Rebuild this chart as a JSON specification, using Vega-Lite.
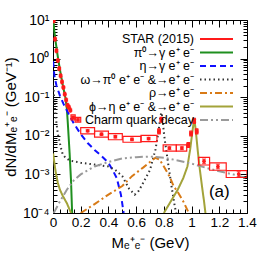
{
 "$schema": "https://vega.github.io/schema/vega-lite/v6.json",
 "width": 194, "height": 193,
 "autosize": "none",
 "padding": {"left": 53, "top": 20, "right": 19, "bottom": 53},
 "background": "white",
 "config": {
  "font": "Liberation Sans",
  "view": {"stroke": "black", "strokeWidth": 1},
  "axis": {"domain": false, "grid": false, "labelFont": "Liberation Sans", "titleFont": "Liberation Sans", "labelColor": "black", "titleColor": "black", "tickColor": "black", "titleFontWeight": "normal", "labelFontSize": 13.5, "titleFontSize": 15, "tickSize": -4, "labelPadding": 8}
 },
 "datasets": {
  "curves": [
   {"series": "π⁰→γ e⁺ e⁻", "part": "a", "m": 0.001, "v": 11},
   {"series": "π⁰→γ e⁺ e⁻", "part": "a", "m": 0.01, "v": 5},
   {"series": "π⁰→γ e⁺ e⁻", "part": "a", "m": 0.02, "v": 2.6},
   {"series": "π⁰→γ e⁺ e⁻", "part": "a", "m": 0.03, "v": 1.45},
   {"series": "π⁰→γ e⁺ e⁻", "part": "a", "m": 0.04, "v": 0.85},
   {"series": "π⁰→γ e⁺ e⁻", "part": "a", "m": 0.05, "v": 0.52},
   {"series": "π⁰→γ e⁺ e⁻", "part": "a", "m": 0.06, "v": 0.33},
   {"series": "π⁰→γ e⁺ e⁻", "part": "a", "m": 0.07, "v": 0.21},
   {"series": "π⁰→γ e⁺ e⁻", "part": "a", "m": 0.08, "v": 0.14},
   {"series": "π⁰→γ e⁺ e⁻", "part": "a", "m": 0.09, "v": 0.095},
   {"series": "π⁰→γ e⁺ e⁻", "part": "a", "m": 0.1, "v": 0.05},
   {"series": "π⁰→γ e⁺ e⁻", "part": "a", "m": 0.105, "v": 0.027},
   {"series": "π⁰→γ e⁺ e⁻", "part": "a", "m": 0.11, "v": 0.014},
   {"series": "π⁰→γ e⁺ e⁻", "part": "a", "m": 0.12, "v": 0.0035},
   {"series": "π⁰→γ e⁺ e⁻", "part": "a", "m": 0.13, "v": 0.0007},
   {"series": "π⁰→γ e⁺ e⁻", "part": "a", "m": 0.138, "v": 0.0001},
   {"series": "η→γ e⁺ e⁻", "part": "a", "m": 0.001, "v": 0.85},
   {"series": "η→γ e⁺ e⁻", "part": "a", "m": 0.01, "v": 0.36},
   {"series": "η→γ e⁺ e⁻", "part": "a", "m": 0.025, "v": 0.2},
   {"series": "η→γ e⁺ e⁻", "part": "a", "m": 0.05, "v": 0.11},
   {"series": "η→γ e⁺ e⁻", "part": "a", "m": 0.075, "v": 0.068},
   {"series": "η→γ e⁺ e⁻", "part": "a", "m": 0.1, "v": 0.045},
   {"series": "η→γ e⁺ e⁻", "part": "a", "m": 0.15, "v": 0.021},
   {"series": "η→γ e⁺ e⁻", "part": "a", "m": 0.2, "v": 0.011},
   {"series": "η→γ e⁺ e⁻", "part": "a", "m": 0.25, "v": 0.0065},
   {"series": "η→γ e⁺ e⁻", "part": "a", "m": 0.3, "v": 0.0043},
   {"series": "η→γ e⁺ e⁻", "part": "a", "m": 0.35, "v": 0.003},
   {"series": "η→γ e⁺ e⁻", "part": "a", "m": 0.4, "v": 0.002},
   {"series": "η→γ e⁺ e⁻", "part": "a", "m": 0.43, "v": 0.0013},
   {"series": "η→γ e⁺ e⁻", "part": "a", "m": 0.46, "v": 0.0008},
   {"series": "η→γ e⁺ e⁻", "part": "a", "m": 0.49, "v": 0.0003},
   {"series": "η→γ e⁺ e⁻", "part": "a", "m": 0.51, "v": 0.0001},
   {"series": "ω→π⁰ e⁺ e⁻ &→e⁺ e⁻", "part": "a", "m": 0.002, "v": 0.2},
   {"series": "ω→π⁰ e⁺ e⁻ &→e⁺ e⁻", "part": "a", "m": 0.01, "v": 0.08},
   {"series": "ω→π⁰ e⁺ e⁻ &→e⁺ e⁻", "part": "a", "m": 0.02, "v": 0.03},
   {"series": "ω→π⁰ e⁺ e⁻ &→e⁺ e⁻", "part": "a", "m": 0.035, "v": 0.011},
   {"series": "ω→π⁰ e⁺ e⁻ &→e⁺ e⁻", "part": "a", "m": 0.06, "v": 0.0045},
   {"series": "ω→π⁰ e⁺ e⁻ &→e⁺ e⁻", "part": "a", "m": 0.07, "v": 0.0033},
   {"series": "ω→π⁰ e⁺ e⁻ &→e⁺ e⁻", "part": "a", "m": 0.09, "v": 0.0027},
   {"series": "ω→π⁰ e⁺ e⁻ &→e⁺ e⁻", "part": "a", "m": 0.12, "v": 0.0023},
   {"series": "ω→π⁰ e⁺ e⁻ &→e⁺ e⁻", "part": "a", "m": 0.2, "v": 0.002},
   {"series": "ω→π⁰ e⁺ e⁻ &→e⁺ e⁻", "part": "a", "m": 0.3, "v": 0.0018},
   {"series": "ω→π⁰ e⁺ e⁻ &→e⁺ e⁻", "part": "a", "m": 0.4, "v": 0.0016},
   {"series": "ω→π⁰ e⁺ e⁻ &→e⁺ e⁻", "part": "a", "m": 0.45, "v": 0.0013},
   {"series": "ω→π⁰ e⁺ e⁻ &→e⁺ e⁻", "part": "a", "m": 0.5, "v": 0.0009},
   {"series": "ω→π⁰ e⁺ e⁻ &→e⁺ e⁻", "part": "a", "m": 0.55, "v": 0.00042},
   {"series": "ω→π⁰ e⁺ e⁻ &→e⁺ e⁻", "part": "a", "m": 0.59, "v": 0.0003},
   {"series": "ω→π⁰ e⁺ e⁻ &→e⁺ e⁻", "part": "a", "m": 0.62, "v": 0.00038},
   {"series": "ω→π⁰ e⁺ e⁻ &→e⁺ e⁻", "part": "a", "m": 0.65, "v": 0.0006},
   {"series": "ω→π⁰ e⁺ e⁻ &→e⁺ e⁻", "part": "a", "m": 0.7, "v": 0.0013},
   {"series": "ω→π⁰ e⁺ e⁻ &→e⁺ e⁻", "part": "a", "m": 0.74, "v": 0.0045},
   {"series": "ω→π⁰ e⁺ e⁻ &→e⁺ e⁻", "part": "a", "m": 0.76, "v": 0.012},
   {"series": "ω→π⁰ e⁺ e⁻ &→e⁺ e⁻", "part": "a", "m": 0.775, "v": 0.032},
   {"series": "ω→π⁰ e⁺ e⁻ &→e⁺ e⁻", "part": "a", "m": 0.782, "v": 0.04},
   {"series": "ω→π⁰ e⁺ e⁻ &→e⁺ e⁻", "part": "a", "m": 0.79, "v": 0.03},
   {"series": "ω→π⁰ e⁺ e⁻ &→e⁺ e⁻", "part": "a", "m": 0.8, "v": 0.012},
   {"series": "ω→π⁰ e⁺ e⁻ &→e⁺ e⁻", "part": "a", "m": 0.81, "v": 0.0065},
   {"series": "ω→π⁰ e⁺ e⁻ &→e⁺ e⁻", "part": "a", "m": 0.83, "v": 0.002},
   {"series": "ω→π⁰ e⁺ e⁻ &→e⁺ e⁻", "part": "a", "m": 0.855, "v": 0.0005},
   {"series": "ω→π⁰ e⁺ e⁻ &→e⁺ e⁻", "part": "a", "m": 0.88, "v": 0.00014},
   {"series": "ω→π⁰ e⁺ e⁻ &→e⁺ e⁻", "part": "a", "m": 0.89, "v": 0.0001},
   {"series": "ρ→e⁺ e⁻", "part": "a", "m": 0.2, "v": 0.0001},
   {"series": "ρ→e⁺ e⁻", "part": "a", "m": 0.3, "v": 0.00017},
   {"series": "ρ→e⁺ e⁻", "part": "a", "m": 0.4, "v": 0.0003},
   {"series": "ρ→e⁺ e⁻", "part": "a", "m": 0.5, "v": 0.0005},
   {"series": "ρ→e⁺ e⁻", "part": "a", "m": 0.57, "v": 0.0009},
   {"series": "ρ→e⁺ e⁻", "part": "a", "m": 0.65, "v": 0.0015},
   {"series": "ρ→e⁺ e⁻", "part": "a", "m": 0.7, "v": 0.0021},
   {"series": "ρ→e⁺ e⁻", "part": "a", "m": 0.74, "v": 0.0027},
   {"series": "ρ→e⁺ e⁻", "part": "a", "m": 0.77, "v": 0.0024},
   {"series": "ρ→e⁺ e⁻", "part": "a", "m": 0.8, "v": 0.0016},
   {"series": "ρ→e⁺ e⁻", "part": "a", "m": 0.84, "v": 0.0009},
   {"series": "ρ→e⁺ e⁻", "part": "a", "m": 0.87, "v": 0.0005},
   {"series": "ρ→e⁺ e⁻", "part": "a", "m": 0.9, "v": 0.00035},
   {"series": "ρ→e⁺ e⁻", "part": "a", "m": 0.94, "v": 0.0002},
   {"series": "ρ→e⁺ e⁻", "part": "a", "m": 0.98, "v": 0.0001},
   {"series": "ϕ→η e⁺ e⁻ &→e⁺ e⁻", "part": "a", "m": 0.001, "v": 0.0035},
   {"series": "ϕ→η e⁺ e⁻ &→e⁺ e⁻", "part": "a", "m": 0.01, "v": 0.002},
   {"series": "ϕ→η e⁺ e⁻ &→e⁺ e⁻", "part": "a", "m": 0.02, "v": 0.0011},
   {"series": "ϕ→η e⁺ e⁻ &→e⁺ e⁻", "part": "a", "m": 0.035, "v": 0.0006},
   {"series": "ϕ→η e⁺ e⁻ &→e⁺ e⁻", "part": "a", "m": 0.05, "v": 0.0004},
   {"series": "ϕ→η e⁺ e⁻ &→e⁺ e⁻", "part": "a", "m": 0.07, "v": 0.00028},
   {"series": "ϕ→η e⁺ e⁻ &→e⁺ e⁻", "part": "a", "m": 0.1, "v": 0.00018},
   {"series": "ϕ→η e⁺ e⁻ &→e⁺ e⁻", "part": "a", "m": 0.13, "v": 0.0001},
   {"series": "ϕ→η e⁺ e⁻ &→e⁺ e⁻", "part": "b", "m": 0.8, "v": 0.0001},
   {"series": "ϕ→η e⁺ e⁻ &→e⁺ e⁻", "part": "b", "m": 0.85, "v": 0.0002},
   {"series": "ϕ→η e⁺ e⁻ &→e⁺ e⁻", "part": "b", "m": 0.9, "v": 0.0004},
   {"series": "ϕ→η e⁺ e⁻ &→e⁺ e⁻", "part": "b", "m": 0.94, "v": 0.0008},
   {"series": "ϕ→η e⁺ e⁻ &→e⁺ e⁻", "part": "b", "m": 0.97, "v": 0.0016},
   {"series": "ϕ→η e⁺ e⁻ &→e⁺ e⁻", "part": "b", "m": 0.99, "v": 0.0045},
   {"series": "ϕ→η e⁺ e⁻ &→e⁺ e⁻", "part": "b", "m": 1.005, "v": 0.012},
   {"series": "ϕ→η e⁺ e⁻ &→e⁺ e⁻", "part": "b", "m": 1.019, "v": 0.028},
   {"series": "ϕ→η e⁺ e⁻ &→e⁺ e⁻", "part": "b", "m": 1.03, "v": 0.014},
   {"series": "ϕ→η e⁺ e⁻ &→e⁺ e⁻", "part": "b", "m": 1.045, "v": 0.004},
   {"series": "ϕ→η e⁺ e⁻ &→e⁺ e⁻", "part": "b", "m": 1.06, "v": 0.0013},
   {"series": "ϕ→η e⁺ e⁻ &→e⁺ e⁻", "part": "b", "m": 1.075, "v": 0.0005},
   {"series": "ϕ→η e⁺ e⁻ &→e⁺ e⁻", "part": "b", "m": 1.09, "v": 0.0002},
   {"series": "ϕ→η e⁺ e⁻ &→e⁺ e⁻", "part": "b", "m": 1.1, "v": 0.0001},
   {"series": "Charm quark decay", "part": "a", "m": 0.005, "v": 0.0001},
   {"series": "Charm quark decay", "part": "a", "m": 0.05, "v": 0.0002},
   {"series": "Charm quark decay", "part": "a", "m": 0.1, "v": 0.0004},
   {"series": "Charm quark decay", "part": "a", "m": 0.15, "v": 0.0007},
   {"series": "Charm quark decay", "part": "a", "m": 0.2, "v": 0.001},
   {"series": "Charm quark decay", "part": "a", "m": 0.3, "v": 0.0016},
   {"series": "Charm quark decay", "part": "a", "m": 0.4, "v": 0.0021},
   {"series": "Charm quark decay", "part": "a", "m": 0.5, "v": 0.0026},
   {"series": "Charm quark decay", "part": "a", "m": 0.6, "v": 0.0028},
   {"series": "Charm quark decay", "part": "a", "m": 0.7, "v": 0.0029},
   {"series": "Charm quark decay", "part": "a", "m": 0.8, "v": 0.0027},
   {"series": "Charm quark decay", "part": "a", "m": 0.9, "v": 0.0023},
   {"series": "Charm quark decay", "part": "a", "m": 1.0, "v": 0.0019},
   {"series": "Charm quark decay", "part": "a", "m": 1.1, "v": 0.0015},
   {"series": "Charm quark decay", "part": "a", "m": 1.2, "v": 0.0012},
   {"series": "Charm quark decay", "part": "a", "m": 1.3, "v": 0.001},
   {"series": "Charm quark decay", "part": "a", "m": 1.4, "v": 0.0008}
  ],
  "star": [
   {"m": 0.005, "v": 9.5, "lo": 8.9, "hi": 10.1, "m0": 0.001, "m1": 0.009, "s0": 8.5, "s1": 10.6},
   {"m": 0.015, "v": 3.2, "lo": 3.0, "hi": 3.4, "m0": 0.011, "m1": 0.019, "s0": 2.85, "s1": 3.6},
   {"m": 0.025, "v": 1.6, "lo": 1.5, "hi": 1.7, "m0": 0.021, "m1": 0.029, "s0": 1.43, "s1": 1.79},
   {"m": 0.035, "v": 0.9, "lo": 0.85, "hi": 0.95, "m0": 0.031, "m1": 0.039, "s0": 0.8, "s1": 1.0},
   {"m": 0.045, "v": 0.55, "lo": 0.52, "hi": 0.58, "m0": 0.041, "m1": 0.049, "s0": 0.49, "s1": 0.62},
   {"m": 0.055, "v": 0.36, "lo": 0.34, "hi": 0.38, "m0": 0.051, "m1": 0.059, "s0": 0.32, "s1": 0.4},
   {"m": 0.065, "v": 0.25, "lo": 0.235, "hi": 0.265, "m0": 0.061, "m1": 0.069, "s0": 0.223, "s1": 0.28},
   {"m": 0.075, "v": 0.18, "lo": 0.17, "hi": 0.19, "m0": 0.071, "m1": 0.079, "s0": 0.16, "s1": 0.2},
   {"m": 0.085, "v": 0.12, "lo": 0.113, "hi": 0.127, "m0": 0.081, "m1": 0.089, "s0": 0.107, "s1": 0.134},
   {"m": 0.095, "v": 0.085, "lo": 0.08, "hi": 0.09, "m0": 0.091, "m1": 0.099, "s0": 0.076, "s1": 0.095},
   {"m": 0.105, "v": 0.062, "lo": 0.058, "hi": 0.066, "m0": 0.101, "m1": 0.109, "s0": 0.055, "s1": 0.069},
   {"m": 0.115, "v": 0.055, "lo": 0.051, "hi": 0.059, "m0": 0.111, "m1": 0.119, "s0": 0.049, "s1": 0.062},
   {"m": 0.125, "v": 0.046, "lo": 0.043, "hi": 0.049, "m0": 0.121, "m1": 0.129, "s0": 0.041, "s1": 0.052},
   {"m": 0.145, "v": 0.03, "lo": 0.028, "hi": 0.032, "m0": 0.13, "m1": 0.16, "s0": 0.026, "s1": 0.035},
   {"m": 0.18, "v": 0.026, "lo": 0.0243, "hi": 0.0277, "m0": 0.16, "m1": 0.2, "s0": 0.0225, "s1": 0.03},
   {"m": 0.25, "v": 0.0135, "lo": 0.0127, "hi": 0.0144, "m0": 0.2, "m1": 0.3, "s0": 0.0112, "s1": 0.0162},
   {"m": 0.35, "v": 0.011, "lo": 0.0103, "hi": 0.0118, "m0": 0.3, "m1": 0.4, "s0": 0.0092, "s1": 0.0132},
   {"m": 0.45, "v": 0.0095, "lo": 0.0088, "hi": 0.0102, "m0": 0.4, "m1": 0.5, "s0": 0.0079, "s1": 0.0114},
   {"m": 0.57, "v": 0.0081, "lo": 0.0075, "hi": 0.0087, "m0": 0.505, "m1": 0.635, "s0": 0.0068, "s1": 0.0097},
   {"m": 0.69, "v": 0.0085, "lo": 0.0079, "hi": 0.0091, "m0": 0.635, "m1": 0.75, "s0": 0.0071, "s1": 0.0102},
   {"m": 0.765, "v": 0.013, "lo": 0.0118, "hi": 0.0143, "m0": 0.757, "m1": 0.773, "s0": 0.0112, "s1": 0.0151},
   {"m": 0.782, "v": 0.026, "lo": 0.0235, "hi": 0.0287, "m0": 0.774, "m1": 0.79, "s0": 0.0225, "s1": 0.03},
   {"m": 0.84, "v": 0.0048, "lo": 0.0044, "hi": 0.0052, "m0": 0.795, "m1": 0.89, "s0": 0.004, "s1": 0.0058},
   {"m": 0.93, "v": 0.0048, "lo": 0.0044, "hi": 0.0052, "m0": 0.89, "m1": 0.965, "s0": 0.004, "s1": 0.0058},
   {"m": 0.976, "v": 0.0058, "lo": 0.0053, "hi": 0.0063, "m0": 0.968, "m1": 0.984, "s0": 0.005, "s1": 0.0067},
   {"m": 0.996, "v": 0.0115, "lo": 0.0105, "hi": 0.0126, "m0": 0.988, "m1": 1.004, "s0": 0.0099, "s1": 0.0133},
   {"m": 1.019, "v": 0.0245, "lo": 0.0225, "hi": 0.0267, "m0": 1.011, "m1": 1.027, "s0": 0.021, "s1": 0.0285},
   {"m": 1.037, "v": 0.013, "lo": 0.0119, "hi": 0.0142, "m0": 1.029, "m1": 1.045, "s0": 0.0112, "s1": 0.0151},
   {"m": 1.09, "v": 0.0022, "lo": 0.0019, "hi": 0.0025, "m0": 1.05, "m1": 1.13, "s0": 0.00175, "s1": 0.00275},
   {"m": 1.19, "v": 0.0016, "lo": 0.0014, "hi": 0.00183, "m0": 1.13, "m1": 1.25, "s0": 0.00128, "s1": 0.002},
   {"m": 1.34, "v": 0.00102, "lo": 0.00088, "hi": 0.00118, "m0": 1.25, "m1": 1.4, "s0": 0.00083, "s1": 0.00125}
  ]
 },
 "layer": [
  {
   "data": {"name": "curves"},
   "mark": {"type": "line", "clip": true, "strokeWidth": 2},
   "encoding": {
    "x": {"field": "m", "type": "quantitative",
     "scale": {"domain": [0, 1.4], "nice": false, "zero": false},
     "axis": {"orient": "bottom", "title": "Mₑ⁺ₑ⁻ (GeV)",
      "values": [0,0.05,0.1,0.15,0.2,0.25,0.3,0.35,0.4,0.45,0.5,0.55,0.6,0.65,0.7,0.75,0.8,0.85,0.9,0.95,1,1.05,1.1,1.15,1.2,1.25,1.3,1.35,1.4],
      "labelExpr": "indexof([0,0.2,0.4,0.6,0.8,1,1.2,1.4], datum.value) >= 0 ? format(datum.value, '~g') : ''",
      "labelOverlap": false, "labelFlush": false, "labelPadding": 9,
      "tickSize": {"condition": {"test": "indexof([0,0.2,0.4,0.6,0.8,1,1.2,1.4], datum.value) >= 0", "value": -7}, "value": -4}}},
    "y": {"field": "v", "type": "quantitative",
     "scale": {"type": "log", "domain": [0.0001, 10], "nice": false},
     "axis": {"orient": "left", "title": "dN/dMₑ⁺ₑ⁻ (GeV⁻¹)",
      "values": [0.0001,0.0002,0.0003,0.0004,0.0005,0.0006,0.0007,0.0008,0.0009,0.001,0.002,0.003,0.004,0.005,0.006,0.007,0.008,0.009,0.01,0.02,0.03,0.04,0.05,0.06,0.07,0.08,0.09,0.1,0.2,0.3,0.4,0.5,0.6,0.7,0.8,0.9,1,2,3,4,5,6,7,8,9,10],
      "labelExpr": "datum.value==10?'10¹':datum.value==1?'10⁰':datum.value==0.1?'10⁻¹':datum.value==0.01?'10⁻²':datum.value==0.001?'10⁻³':datum.value==0.0001?'10⁻⁴':''",
      "labelOverlap": false, "labelFlush": false, "labelFontSize": 14, "labelPadding": 11,
      "tickSize": {"condition": {"test": "indexof([0.0001,0.001,0.01,0.1,1,10], datum.value) >= 0", "value": -7}, "value": -4}}},
    "color": {"field": "series", "type": "nominal",
     "scale": {"domain": ["STAR (2015)", "π⁰→γ e⁺ e⁻", "η→γ e⁺ e⁻", "ω→π⁰ e⁺ e⁻ &→e⁺ e⁻", "ρ→e⁺ e⁻", "ϕ→η e⁺ e⁻ &→e⁺ e⁻", "Charm quark decay"],
      "range": ["#ff1a1a", "#1f8f1f", "#1010ff", "#333333", "#d87a16", "#a3a33a", "#9a9a9a"]},
     "legend": {"title": null, "orient": "none", "legendX": 145, "legendY": 13, "symbolType": "stroke", "symbolSize": 1089, "symbolStrokeWidth": 2, "labelFontSize": 12.5, "labelFont": "Liberation Sans", "labelColor": "black", "rowPadding": 0.5, "padding": 0, "labelLimit": 300,
      "encode": {"symbols": {"update": {"y": {"value": 6}, "x": {"value": 18.5}}}, "labels": {"update": {"y": {"value": 6}, "x": {"value": -4}, "align": {"value": "right"}}}}}},
    "strokeDash": {"field": "series", "type": "nominal",
     "scale": {"domain": ["STAR (2015)", "π⁰→γ e⁺ e⁻", "η→γ e⁺ e⁻", "ω→π⁰ e⁺ e⁻ &→e⁺ e⁻", "ρ→e⁺ e⁻", "ϕ→η e⁺ e⁻ &→e⁺ e⁻", "Charm quark decay"],
      "range": [[1,0], [1,0], [6,4], [1.5,3], [7,3,2,3], [1,0], [8,3,2,3,2,3]]},
     "legend": {"title": null, "orient": "none", "legendX": 145, "legendY": 13, "symbolType": "stroke", "symbolSize": 1089, "symbolStrokeWidth": 2, "labelFontSize": 12.5, "labelFont": "Liberation Sans", "labelColor": "black", "rowPadding": 0.5, "padding": 0, "labelLimit": 300,
      "encode": {"symbols": {"update": {"y": {"value": 6}, "x": {"value": 18.5}}}, "labels": {"update": {"y": {"value": 6}, "x": {"value": -4}, "align": {"value": "right"}}}}}},
    "detail": {"field": "part"}
   }
  },
  {
   "data": {"name": "star"},
   "mark": {"type": "rect", "filled": false, "stroke": "#ff1a1a", "strokeWidth": 1.2, "clip": true},
   "encoding": {
    "x": {"field": "m0", "type": "quantitative", "axis": null},
    "x2": {"field": "m1"},
    "y": {"field": "s0", "type": "quantitative", "axis": null},
    "y2": {"field": "s1"}
   }
  },
  {
   "data": {"name": "star"},
   "mark": {"type": "rule", "color": "#ff1a1a", "strokeWidth": 1.2, "clip": true},
   "encoding": {
    "x": {"field": "m", "type": "quantitative", "axis": null},
    "y": {"field": "lo", "type": "quantitative", "axis": null},
    "y2": {"field": "hi"}
   }
  },
  {
   "data": {"name": "star"},
   "mark": {"type": "tick", "orient": "horizontal", "color": "#ff1a1a", "size": 4, "thickness": 1.2, "clip": true},
   "encoding": {
    "x": {"field": "m", "type": "quantitative", "axis": null},
    "y": {"field": "lo", "type": "quantitative", "axis": null}
   }
  },
  {
   "data": {"name": "star"},
   "mark": {"type": "tick", "orient": "horizontal", "color": "#ff1a1a", "size": 4, "thickness": 1.2, "clip": true},
   "encoding": {
    "x": {"field": "m", "type": "quantitative", "axis": null},
    "y": {"field": "hi", "type": "quantitative", "axis": null}
   }
  },
  {
   "data": {"name": "star"},
   "mark": {"type": "circle", "color": "#ff1a1a", "opacity": 1, "size": 14, "clip": true},
   "encoding": {
    "x": {"field": "m", "type": "quantitative",
     "axis": {"orient": "top", "title": null, "labels": false,
      "values": [0,0.05,0.1,0.15,0.2,0.25,0.3,0.35,0.4,0.45,0.5,0.55,0.6,0.65,0.7,0.75,0.8,0.85,0.9,0.95,1,1.05,1.1,1.15,1.2,1.25,1.3,1.35,1.4],
      "tickSize": {"condition": {"test": "indexof([0,0.2,0.4,0.6,0.8,1,1.2,1.4], datum.value) >= 0", "value": -7}, "value": -4}}},
    "y": {"field": "v", "type": "quantitative",
     "axis": {"orient": "right", "title": null, "labels": false,
      "values": [0.0001,0.0002,0.0003,0.0004,0.0005,0.0006,0.0007,0.0008,0.0009,0.001,0.002,0.003,0.004,0.005,0.006,0.007,0.008,0.009,0.01,0.02,0.03,0.04,0.05,0.06,0.07,0.08,0.09,0.1,0.2,0.3,0.4,0.5,0.6,0.7,0.8,0.9,1,2,3,4,5,6,7,8,9,10],
      "tickSize": {"condition": {"test": "indexof([0.0001,0.001,0.01,0.1,1,10], datum.value) >= 0", "value": -7}, "value": -4}}}
   }
  },
  {
   "data": {"values": [{}]},
   "mark": {"type": "text", "text": "(a)", "fontSize": 17, "font": "Liberation Sans", "color": "black"},
   "encoding": {
    "x": {"datum": 1.2, "type": "quantitative", "axis": null},
    "y": {"datum": 0.00035, "type": "quantitative", "axis": null}
   }
  }
 ],
 "resolve": {"axis": {"x": "independent", "y": "independent"}}
}
